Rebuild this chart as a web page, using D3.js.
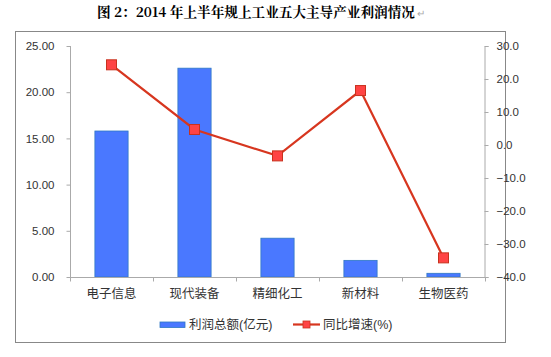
<!DOCTYPE html>
<html><head><meta charset="utf-8">
<script src="https://cdn.jsdelivr.net/npm/d3@7"></script>
<style>body{margin:0;background:#fff;} svg{display:block;}</style>
</head><body>
<svg id="c" width="551" height="357"></svg>
<script>
const categories = ["电子信息","现代装备","精细化工","新材料","生物医药"];
const profit = [15.8, 22.6, 4.2, 1.8, 0.4];
const growth = [24.3, 4.7, -3.3, 16.5, -34.2];
const leftTicks = [0,5,10,15,20,25];
const rightTicks = [-40,-30,-20,-10,0,10,20,30];
const title = "图 2：2014 年上半年规上工业五大主导产业利润情况";
const legendLabels = ["利润总额(亿元)","同比增速(%)"];

const svg = d3.select("#c");
const font = "'Liberation Sans','Noto Sans CJK SC',sans-serif";
const m = {l:70, r:485, t:46, b:277};

// title
svg.append("text").attr("x",97).attr("y",17).attr("text-anchor","start")
  .attr("font-family","'Noto Serif CJK SC','Noto Sans CJK SC',serif").attr("font-weight","bold")
  .attr("font-size",13.5).attr("textLength",318).attr("lengthAdjust","spacingAndGlyphs")
  .attr("fill","#000").text(title);
svg.append("text").attr("x",417).attr("y",17).attr("font-size",10).attr("fill","#aaa")
  .attr("font-family",font).text("↵");

// frame
svg.append("rect").attr("x",15.5).attr("y",31.5).attr("width",490).attr("height",311)
  .attr("fill","#fff").attr("stroke","#888").attr("stroke-width",1);

const x = d3.scaleBand().domain(categories).range([m.l,m.r]).paddingInner(0.6).paddingOuter(0.3);
const xc = d3.scaleBand().domain(categories).range([m.l,m.r]);
const yL = d3.scaleLinear().domain([0,25]).range([m.b,m.t]);
const yR = d3.scaleLinear().domain([-40,30]).range([m.b,m.t]);

// left axis
const gl = svg.append("g").attr("transform",`translate(${m.l+0.5},0)`)
  .call(d3.axisLeft(yL).tickValues(leftTicks).tickFormat(d3.format(".2f")).tickSizeOuter(0).tickSize(4).tickPadding(12));
gl.select(".domain").attr("stroke","#aaa").attr("d",`M0,${m.t}V${m.b+4}`);
gl.selectAll(".tick line").attr("stroke","#aaa");
gl.selectAll("text").attr("font-family",font).attr("font-size",11.5).attr("fill","#333");

// right axis
const gr = svg.append("g").attr("transform",`translate(${m.r-0.5},0)`)
  .call(d3.axisRight(yR).tickValues(rightTicks).tickFormat(d3.format(".1f")).tickSizeOuter(0).tickSize(4).tickPadding(8));
gr.select(".domain").attr("stroke","#aaa");
gr.selectAll(".tick line").attr("stroke","#aaa");
gr.selectAll("text").attr("font-family",font).attr("font-size",11.5).attr("fill","#333");

// bars
svg.append("g").selectAll("rect").data(profit).join("rect")
  .attr("x",(d,i)=>x(categories[i])).attr("width",x.bandwidth())
  .attr("y",d=>yL(d)).attr("height",d=>yL(0)-yL(d))
  .attr("fill","#4a78ff").attr("stroke","#2f78c4").attr("stroke-width",0.8);

// bottom axis
const gb = svg.append("g").attr("transform",`translate(0,${m.b+0.5})`)
  .call(d3.axisBottom(xc).tickSize(0).tickPadding(12));
gb.select(".domain").attr("stroke","#aaa").attr("d",`M${m.l},0H${m.r}`);
gb.selectAll("text").attr("font-family",font).attr("font-size",12.5).attr("fill","#333");
gb.selectAll(".cat-tick").data(d3.range(categories.length+1)).join("line")
  .attr("x1",i=>m.l+i*xc.step()+0.5).attr("x2",i=>m.l+i*xc.step()+0.5)
  .attr("y1",0).attr("y2",4).attr("stroke","#aaa");

// line
const cx = (i)=>xc(categories[i])+xc.bandwidth()/2;
svg.append("path").datum(growth)
  .attr("d",d3.line().x((d,i)=>cx(i)).y(d=>yR(d)))
  .attr("fill","none").attr("stroke","#d7361f").attr("stroke-width",2.2);
svg.append("g").selectAll("rect").data(growth).join("rect")
  .attr("x",(d,i)=>cx(i)-5).attr("y",d=>yR(d)-5).attr("width",10).attr("height",10)
  .attr("fill","#ff4444").attr("stroke","#c8321e").attr("stroke-width",1);

// legend
const lg = svg.append("g");
lg.append("rect").attr("x",160).attr("y",322).attr("width",25).attr("height",5.5)
  .attr("fill","#4a78ff").attr("stroke","#2f78c4").attr("stroke-width",0.8);
lg.append("text").attr("x",189).attr("y",329).attr("font-family",font).attr("font-size",12.5)
  .attr("fill","#333").text(legendLabels[0]);
lg.append("line").attr("x1",293).attr("x2",320).attr("y1",324.5).attr("y2",324.5)
  .attr("stroke","#d7361f").attr("stroke-width",2.2);
lg.append("rect").attr("x",303).attr("y",321).attr("width",7).attr("height",7)
  .attr("fill","#ff4444").attr("stroke","#c8321e").attr("stroke-width",0.8);
lg.append("text").attr("x",323).attr("y",329).attr("font-family",font).attr("font-size",12.5)
  .attr("fill","#333").text(legendLabels[1]);
</script>
</body></html>
